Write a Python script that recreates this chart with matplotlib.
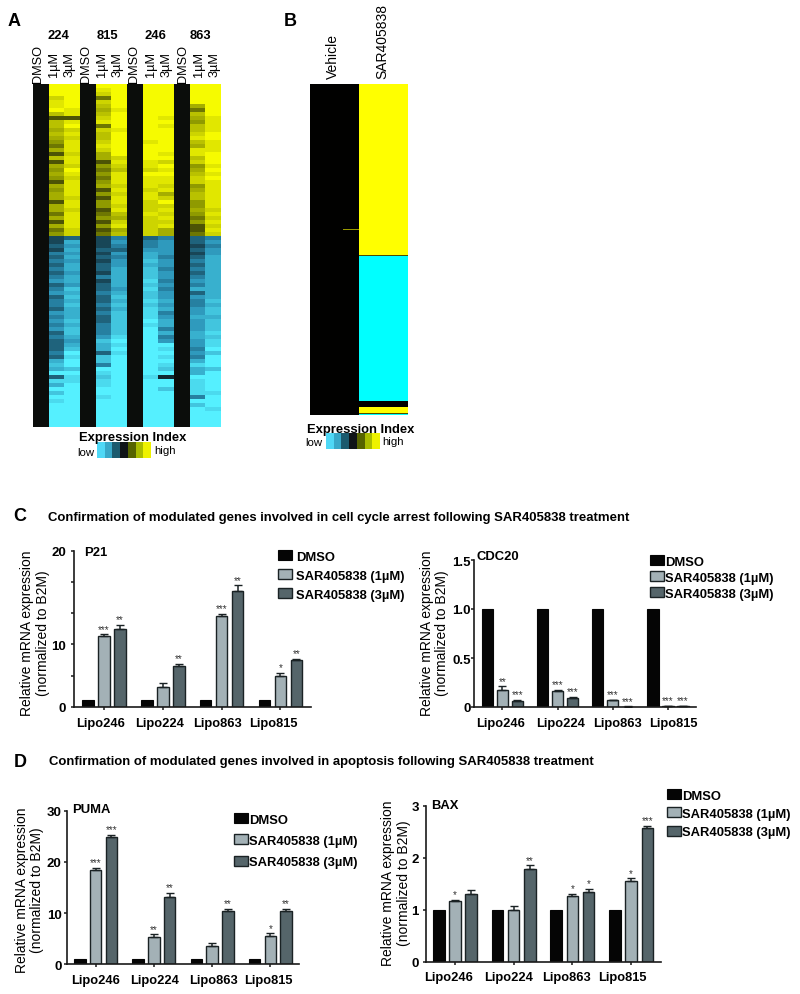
import numpy as np
import matplotlib
matplotlib.use("Agg")
import matplotlib.pyplot as plt
from matplotlib.colors import LinearSegmentedColormap, ListedColormap
from matplotlib.transforms import ScaledTranslation

plt.rcParams['font.family'] = ['Liberation Sans', 'DejaVu Sans']

W, H = 800, 995

# ---------- data ----------
LINES = ['Lipo246', 'Lipo224', 'Lipo863', 'Lipo815']
SERIES = ['DMSO', 'SAR405838 (1\u00b5M)', 'SAR405838 (3\u00b5M)']

P21_DMSO = [0.9, 0.9, 0.9, 0.9]
P21_1UM = [9.1, 2.5, 11.7, 4.0]
P21_3UM = [10.0, 5.3, 14.9, 6.0]
P21_1UM_ERR = [0.2, 0.55, 0.2, 0.4]
P21_3UM_ERR = [0.55, 0.25, 0.65, 0.2]
P21_1UM_SIG = ['***', '', '***', '*']
P21_3UM_SIG = ['**', '**', '**', '**']
P21_TICKS = [0, 4, 8, 12, 16, 20]
P21_TICKLABELS = ['0', '', '10', '', '', '20']

CDC20_DMSO = [1.0, 1.0, 1.0, 1.0]
CDC20_1UM = [0.175, 0.165, 0.07, 0.012]
CDC20_3UM = [0.06, 0.09, 0.005, 0.012]
CDC20_1UM_ERR = [0.035, 0.006, 0.006, 0.003]
CDC20_3UM_ERR = [0.01, 0.015, 0.002, 0.003]
CDC20_1UM_SIG = ['**', '***', '***', '***']
CDC20_3UM_SIG = ['***', '***', '***', '***']
CDC20_TICKS = [0, 0.5, 1.0, 1.5]
CDC20_TICKLABELS = ['0', '0.5', '1.0', '1.5']

PUMA_DMSO = [1.0, 1.0, 1.0, 1.0]
PUMA_1UM = [18.5, 5.4, 3.6, 5.5]
PUMA_3UM = [24.9, 13.1, 10.4, 10.5]
PUMA_1UM_ERR = [0.35, 0.45, 0.65, 0.55]
PUMA_3UM_ERR = [0.45, 0.9, 0.45, 0.25]
PUMA_1UM_SIG = ['***', '**', '', '*']
PUMA_3UM_SIG = ['***', '**', '**', '**']
PUMA_TICKS = [0, 10, 20, 30]
PUMA_TICKLABELS = ['0', '10', '20', '30']

BAX_DMSO = [1.0, 1.0, 1.0, 1.0]
BAX_1UM = [1.17, 1.0, 1.27, 1.55]
BAX_3UM = [1.30, 1.79, 1.34, 2.57]
BAX_1UM_ERR = [0.025, 0.065, 0.04, 0.055]
BAX_3UM_ERR = [0.08, 0.065, 0.065, 0.05]
BAX_1UM_SIG = ['*', '', '*', '*']
BAX_3UM_SIG = ['', '**', '*', '***']
BAX_TICKS = [0, 1, 2, 3]
BAX_TICKLABELS = ['0', '1', '2', '3']

# Panel A: one string per row, one digit per treated column
# (224 1uM, 224 3uM, 815 1uM, 815 3uM, 246 1uM, 246 3uM, 863 1uM, 863 3uM);
# 0 = black, 9 = full colour.
A_UP_ROWS = [
    "99999999", "99899999", "99799999", "79399999", "89799999", "89699959",
    "98589939", "68699969", "22799858", "68899948", "69399868", "57789968",
    "68699979", "57699989", "48798968", "38899958", "58799988", "27599889",
    "68579969", "28288779", "57478948", "49367859", "58489968", "47388879",
    "28488878", "58578748", "48287858", "58478568", "57288768", "28487948",
    "58477748", "57287857", "38368748", "58457837", "28277748", "58487827",
    "37257528", "47367537",
]
A_DOWN_ROWS = [
    "23243434", "26254535", "35244524", "26335535", "45256525", "36346436",
    "45257546", "36356536", "46367446", "35267536", "46467546", "56268456",
    "35367546", "47358466", "56467536", "37377556", "46368647", "47477546",
    "36368657", "56478457", "46378566", "57379657", "46478657", "57479457",
    "37479668", "46589467", "35799558", "36689958", "37699849", "49389957",
    "38799849", "69799969", "79499889", "67999767", "99899969", "38798199",
    "88899989", "69899989", "99999789", "79999988", "99899949", "89999999",
    "99999979", "99999998", "99999999", "99999999", "99999999", "99999999",
]
A_BAND_LABELS = ['224', '815', '246', '863']
A_COLUMN_LABELS = ['DMSO', '1\u00b5M', '3\u00b5M'] * 4

# Panel B: run length in rows, vehicle level, vehicle (right part) level, SAR level
B_ROW_COUNTS = [145, 1, 25, 1, 145, 6, 6, 1, 1]
B_VEHICLE = [0, 0, 0, 0, 0, 0, 0, 0, 0]
B_VEHICLE_EDGE = [0, 0.6, 0, 0, 0, 0, 0, 0, 0]
B_SAR = [1, 1, 1, 0.3, -1, 0, 1, 0.3, -1]
B_COLUMN_LABELS = ['Vehicle', 'SAR405838']

KEY_LEVELS = [-3, -2, -1, 0, 1, 2, 3]
KEY_COLOURS = ['#4fd8f6', '#38a8c8', '#1b5a6e', '#101418', '#566400', '#aabd00', '#eef200']

BAR_COLOURS = ['#050505', '#a3b1b6', '#55656a']
EDGE = '#1a2224'


# ---------- helpers ----------
def fx(px):
    return px / W


def fy(py):
    return 1 - py / H


def px_axes(fig, left, right, top, bottom):
    return fig.add_axes([fx(left), fy(bottom), (right - left) / W, (bottom - top) / H])


def ftext(fig, x, y, s, **kw):
    kw.setdefault('ha', 'center')
    kw.setdefault('va', 'center')
    kw.setdefault('color', '#000000')
    return fig.text(fx(x), fy(y), s, **kw)


def bar_panel(fig, box, tick0, spacing, step, width, ymax, ticks, ticklabels,
              dmso, v1, v3, e1, e3, s1, s3, label_shift, panel_label, panel_xy,
              ylab_x, ylab_y, leg_xy, leg_space, leg_pad, ypad):
    left, right, top, bottom = box
    ax = px_axes(fig, left, right, top, bottom)
    ax.patch.set_alpha(0)
    x = np.arange(len(LINES))
    s = step / spacing
    w = width / spacing
    ax.bar(x - s, dmso, w, color=BAR_COLOURS[0], edgecolor=BAR_COLOURS[0], lw=0.8, label=SERIES[0])
    ekw = dict(ecolor=EDGE, elinewidth=1.1, capsize=2.6, capthick=1.0)
    ax.bar(x, v1, w, color=BAR_COLOURS[1], edgecolor=EDGE, lw=1.0,
           yerr=[np.zeros(4), e1], error_kw=ekw, label=SERIES[1])
    ax.bar(x + s, v3, w, color=BAR_COLOURS[2], edgecolor=EDGE, lw=1.0,
           yerr=[np.zeros(4), e3], error_kw=ekw, label=SERIES[2])
    for offs, vals, errs, sigs in ((0, v1, e1, s1), (s, v3, e3, s3)):
        for i, (v, e, sg) in enumerate(zip(vals, errs, sigs)):
            if sg:
                ax.annotate(sg, (i + offs, v + e), xytext=(0, 0.5), textcoords='offset points',
                            ha='center', va='bottom', fontsize=7, color='#333333')
    ax.set_xlim((left - tick0) / spacing, (right - tick0) / spacing)
    ax.set_ylim(0, ymax)
    ax.set_xticks(x, LINES)
    ax.set_yticks(ticks, ticklabels)
    for sp in ('top', 'right'):
        ax.spines[sp].set_visible(False)
    for sp in ('left', 'bottom'):
        ax.spines[sp].set_linewidth(1.2)
        ax.spines[sp].set_color('#1a1a1a')
    ax.tick_params(axis='both', length=2.2, width=1.1, color='#1a1a1a')
    ax.tick_params(axis='x', pad=4.8)
    ax.tick_params(axis='y', pad=ypad)
    for lab in ax.get_yticklabels():
        lab.set_fontsize(9.5)
        lab.set_fontweight('bold')
        lab.set_color('#000000')
    for lab, sh in zip(ax.get_xticklabels(), label_shift):
        lab.set_fontsize(9.3)
        lab.set_fontweight('bold')
        lab.set_color('#000000')
        lab.set_transform(lab.get_transform() + ScaledTranslation(sh / 100, 0, fig.dpi_scale_trans))
    ftext(fig, panel_xy[0], panel_xy[1], panel_label, ha='left', fontsize=9.4, fontweight='bold')
    ftext(fig, ylab_x, ylab_y, 'Relative mRNA expression\n(normalized to B2M)', rotation=90,
          fontsize=10, linespacing=1.15, ma='center')
    ax.legend(loc='upper left', bbox_to_anchor=(fx(leg_xy[0]), fy(leg_xy[1])),
              bbox_transform=fig.transFigure, frameon=False, borderpad=0, borderaxespad=0,
              handlelength=1.05, handleheight=0.8, handletextpad=leg_pad, labelspacing=leg_space,
              prop=dict(size=9.4, weight='bold'))
    return ax


# ---------- figure ----------
fig = plt.figure(figsize=(W / 100, H / 100), dpi=100)

for s, xx, yy in (('A', 14.5, 22), ('B', 290, 21), ('C', 20, 517), ('D', 20, 763)):
    ftext(fig, xx, yy, s, fontsize=13, fontweight='bold')

# Panel A heatmap
up = np.array([[int(c) for c in r] for r in A_UP_ROWS], float)
down = -np.array([[int(c) for c in r] for r in A_DOWN_ROWS], float)
treated = np.vstack([up, down])
matrix = np.zeros((treated.shape[0], 12))
matrix[:, [1, 2, 4, 5, 7, 8, 10, 11]] = treated
cmap_a = LinearSegmentedColormap.from_list(
    'a', [(0, '#55f0ff'), (0.25, '#2a8fb5'), (0.5, '#0a0c0c'), (0.72, '#8f9a00'), (1, '#f6fb00')])
ax_a = px_axes(fig, 33, 220, 85, 428)
ax_a.imshow(matrix, cmap=cmap_a, vmin=-9, vmax=9, aspect='auto', interpolation='nearest')
ax_a.axis('off')

col_x = [38.5, 54, 70, 86, 102, 118, 134.5, 151, 167, 183, 199, 215]
for xx, lab in zip(col_x, A_COLUMN_LABELS):
    ftext(fig, xx, 83 if lab == 'DMSO' else 77.5, lab, rotation=90, va='bottom', fontsize=9.2)
for xx, lab in zip([58, 107, 155, 200], A_BAND_LABELS):
    ftext(fig, xx, 36, lab, fontsize=9.4, fontweight='bold')

# Panel B heatmap
def col(values):
    return np.repeat(values, B_ROW_COUNTS)

matrix_b = np.column_stack([col(B_VEHICLE), col(B_VEHICLE), col(B_VEHICLE_EDGE),
                            col(B_SAR), col(B_SAR), col(B_SAR)])
cmap_b = LinearSegmentedColormap.from_list('b', ['#00ffff', '#000000', '#ffff00'])
ax_b = px_axes(fig, 310, 408, 84.5, 415.5)
ax_b.imshow(matrix_b, cmap=cmap_b, vmin=-1, vmax=1, aspect='auto', interpolation='nearest')
ax_b.axis('off')
for xx, lab in zip([333, 382], B_COLUMN_LABELS):
    ftext(fig, xx, 79, lab, rotation=90, va='bottom', fontsize=10)

# Expression keys
for (l, r, t, b), title_xy, low_xy, high_xy in (
        ((97, 151, 443, 458.5), (133, 438), (86, 453), (165, 451)),
        ((325.5, 379, 434, 449.5), (361, 430), (314, 443.5), (393, 442))):
    ax_k = px_axes(fig, l, r, t, b)
    ax_k.imshow([KEY_LEVELS], cmap=ListedColormap(KEY_COLOURS), aspect='auto', interpolation='nearest')
    ax_k.axis('off')
    ftext(fig, title_xy[0], title_xy[1], 'Expression Index', fontsize=9.4, fontweight='bold', zorder=0)
    ftext(fig, low_xy[0], low_xy[1], 'low', fontsize=8.2)
    ftext(fig, high_xy[0], high_xy[1], 'high', fontsize=8.2)

# Section titles
ftext(fig, 48, 517.5, 'Confirmation of modulated genes involved in cell cycle arrest following SAR405838 treatment',
      ha='left', fontsize=9.45, fontweight='bold')
ftext(fig, 49, 762, 'Confirmation of modulated genes involved in apoptosis following SAR405838 treatment',
      ha='left', fontsize=9.45, fontweight='bold')

bar_panel(fig, (74, 310.7, 551.7, 708), 104, 58.8, 16, 11.5, 20, P21_TICKS, P21_TICKLABELS,
          P21_DMSO, P21_1UM, P21_3UM, P21_1UM_ERR, P21_3UM_ERR, P21_1UM_SIG, P21_3UM_SIG,
          [-3, -3, -4, -7], 'P21', (84, 553), 35, 633, (278, 551), 0.5, 0.35, 3.7)
bar_panel(fig, (474, 696, 561, 708), 502.3, 55.2, 15, 11.4, 1.5, CDC20_TICKS, CDC20_TICKLABELS,
          CDC20_DMSO, CDC20_1UM, CDC20_3UM, CDC20_1UM_ERR, CDC20_3UM_ERR, CDC20_1UM_SIG, CDC20_3UM_SIG,
          [-2, 3, 5, 5], 'CDC20', (477, 557), 434.5, 633, (650, 556), 0.28, 0.1, 0.2)
bar_panel(fig, (66.7, 299, 811.7, 965.3), 95.7, 58.2, 15.8, 11.5, 30, PUMA_TICKS, PUMA_TICKLABELS,
          PUMA_DMSO, PUMA_1UM, PUMA_3UM, PUMA_1UM_ERR, PUMA_3UM_ERR, PUMA_1UM_SIG, PUMA_3UM_SIG,
          [0, 1, 1, -2], 'PUMA', (72, 810), 29.5, 890, (234, 814), 0.68, 0.1, 1.4)
bar_panel(fig, (426, 661, 807, 962.7), 455, 58.7, 16.2, 11.5, 3, BAX_TICKS, BAX_TICKLABELS,
          BAX_DMSO, BAX_1UM, BAX_3UM, BAX_1UM_ERR, BAX_3UM_ERR, BAX_1UM_SIG, BAX_3UM_SIG,
          [-6, -5, -6, -9], 'BAX', (431, 806), 396, 883, (667, 790), 0.45, 0.1, 3.0)

fig.savefig('out.png', dpi=100, facecolor='white')
